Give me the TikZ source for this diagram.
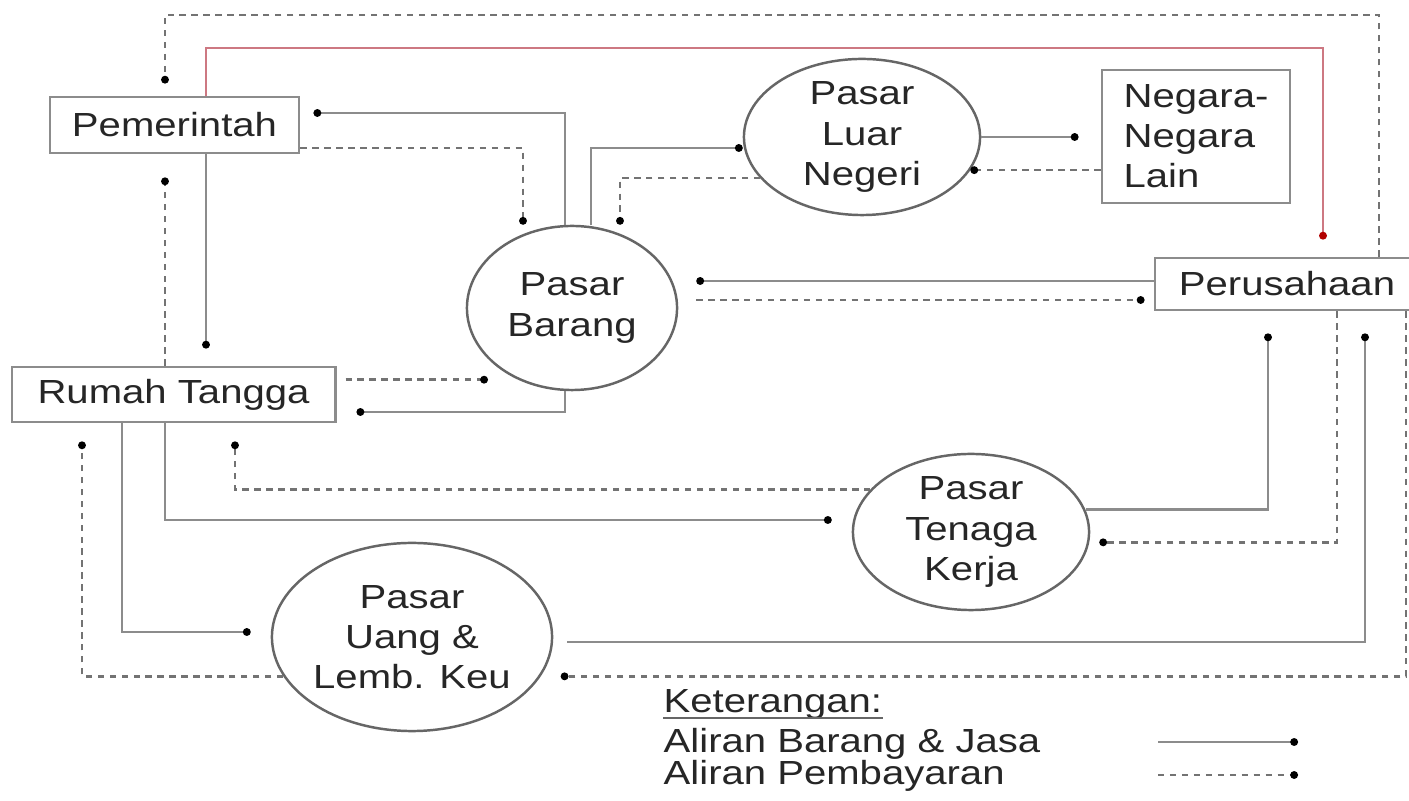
\documentclass[tikz,border=0pt]{standalone}
\usepackage{fontspec}
\setmainfont{Liberation Sans}[FakeStretch=1.2]
\usetikzlibrary{arrows.meta,shapes.geometric}
\definecolor{redline}{RGB}{205,120,130}
\definecolor{lnk}{RGB}{140,140,140}
\begin{document}
\begin{tikzpicture}[x=0.01cm,y=-0.01cm,
  txt/.style={font=\fontsize{9.5}{11.4}\selectfont, text=black!85},
  boxnode/.style={txt, draw=black!45, line width=0.8pt, fill=white, inner sep=0pt},
  ellnode/.style={txt, ellipse, draw=black!60, line width=0.7pt, align=center, inner sep=0pt},
  tipdot/.tip={Circle[length=2.2pt,color=black]},
  barang/.style={draw=lnk, line width=0.8pt, -tipdot},
  bayar/.style={draw=black!55, line width=0.7pt, dash pattern=on 1.8pt off 1.6pt, -tipdot},
  merah/.style={draw=redline, line width=0.8pt, -{Circle[length=2.2pt,color=red!70!black]}},
  lbl/.style={txt, inner sep=0pt, anchor=base west}]
\useasboundingbox (0,0) rectangle (1409,801);
\fill[white] (0,0) rectangle (1409,801);

% nodes
\node[boxnode, minimum width=2.49cm, minimum height=0.56cm] (pem) at (174.5,125) {Pemerintah};
\node[boxnode, minimum width=3.23cm, minimum height=0.55cm] (rt) at (173.5,394.5) {Rumah Tangga};
\node[boxnode, minimum width=2.64cm, minimum height=0.52cm] (per) at (1287,284) {Perusahaan};
\node[boxnode, minimum width=1.88cm, minimum height=1.33cm, align=left] (neg) at (1196,136.5) {Negara-\\Negara\\Lain};
\node[ellnode, minimum width=2.36cm, minimum height=1.56cm] (plne) at (862,137) {Pasar\\Luar\\Negeri};
\node[ellnode, minimum width=2.1cm, minimum height=1.64cm] (pb) at (572,308) {Pasar\\Barang};
\node[ellnode, minimum width=2.36cm, minimum height=1.56cm] (ptk) at (971,532) {Pasar\\Tenaga\\Kerja};
\node[ellnode, minimum width=2.8cm, minimum height=1.88cm] (pu) at (412,637) {Pasar\\Uang \&\\Lemb. Keu};

% helper columns and rows
\foreach \c in {82,122,165,206,235,523,565,591,620,1268,1323,1337,1365,1379,1406}
  {\coordinate (x\c) at (\c,0);}
\foreach \r in {15,48,113,148,281,300,379,412,520,632,642}
  {\coordinate (y\r) at (0,\r);}

% outer payment loop: Perusahaan -> Pemerintah
\draw[bayar, shorten >=0.12cm] (per.north -| x1379) |- (y15 -| x165) -- (pem.north -| x165);
% red: Pemerintah -> Perusahaan
\draw[merah, shorten >=0.17cm] (pem.north -| x206) |- (y48 -| x1323) -- (per.north -| x1323);

% Pasar Barang <-> Pemerintah
\draw[barang, shorten >=0.13cm] (pb.north -| x565) |- (pem.east |- y113);
\draw[bayar] (pem.east |- y148) -| (pb.north -| x523);
% Pasar Barang <-> Pasar Luar Negeri
\draw[barang] (pb.north -| x591) |- (plne.west |- y148);
\draw[bayar] (plne.202) -| (pb.north -| x620);
% Pasar Luar Negeri <-> Negara lain
\draw[barang, shorten >=0.22cm] (plne.east) -- (plne.east -| neg.west);
\draw[bayar] (neg.west |- plne.-17) -- (plne.-17);
% Perusahaan <-> Pasar Barang
\draw[barang, shorten >=0.18cm] (per.west |- y281) -- (pb.east |- y281);
\draw[bayar, shorten <=0.18cm, shorten >=0.09cm] (pb.east |- y300) -- (per.west |- y300);
% Pemerintah <-> Rumah Tangga
\draw[barang, shorten >=0.17cm] (pem.south -| x206) -- (rt.north -| x206);
\draw[bayar, shorten >=0.23cm] (rt.north -| x165) -- (pem.south -| x165);
% Rumah Tangga <-> Pasar Barang
\draw[bayar, shorten <=0.09cm, shorten >=0.3cm] (rt.east |- pb.233) -- (pb.233);
\draw[barang, shorten >=0.2cm] (pb.south -| x565) |- (rt.east |- y412);
% Rumah Tangga <-> Pasar Tenaga Kerja
\draw[bayar, shorten >=0.18cm] (ptk.157) -| (rt.south -| x235);
\draw[barang, shorten >=0.2cm] (rt.south -| x165) |- (ptk.west |- y520);
% Pasar Tenaga Kerja <-> Perusahaan
\draw[barang, shorten >=0.22cm] (ptk.11) -| (per.south -| x1268);
\draw[bayar, shorten >=0.1cm] (per.south -| x1337) |- (ptk.-5);
% Rumah Tangga <-> Pasar Uang
\draw[barang, shorten >=0.2cm] (rt.south -| x122) |- (pu.west |- y632);
\draw[bayar, shorten >=0.18cm] (pu.197) -| (rt.south -| x82);
% Pasar Uang <-> Perusahaan
\draw[barang, shorten <=0.14cm, shorten >=0.22cm] (pu.east |- y642) -| (per.south -| x1365);
\draw[bayar, shorten >=0.2cm] (per.south -| x1406) |- (pu.-17);

% legend
\node[lbl] (ket) at (663,713) {Keterangan:};
\draw[black!60, line width=0.7pt] ([yshift=-0.05cm]ket.base west) -- ([yshift=-0.05cm]ket.base east);
\node[lbl] (leg1) at (663,753) {Aliran Barang \& Jasa};
\node[lbl] (leg2) at (663,785) {Aliran Pembayaran};
\coordinate (l1a) at (1158,742);
\coordinate (l1b) at (1298,742);
\coordinate (l2a) at (1158,775);
\coordinate (l2b) at (1298,775);
\draw[barang] (l1a) -- (l1b);
\draw[bayar] (l2a) -- (l2b);
\end{tikzpicture}
\end{document}
